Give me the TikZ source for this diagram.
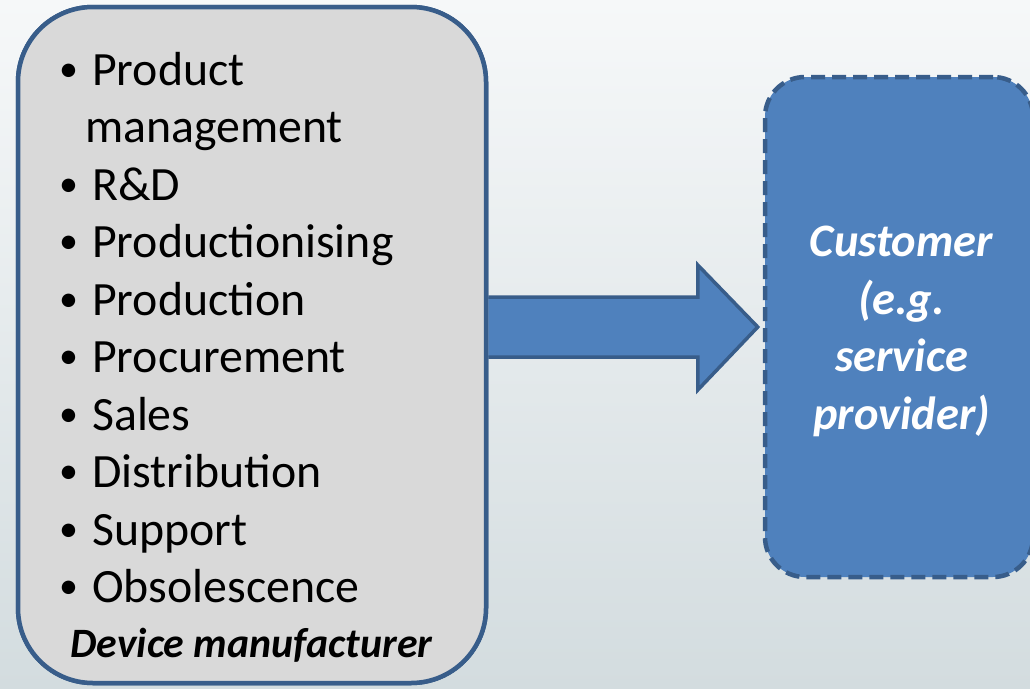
\documentclass[tikz,border=0pt]{standalone}
\usepackage{fontspec}
\setmainfont{Carlito}
\usetikzlibrary{calc}
\definecolor{accent}{HTML}{4F81BD}
\definecolor{edge}{HTML}{385D8A}
\definecolor{panel}{HTML}{D9D9D9}
\definecolor{bgtop}{HTML}{F6F8F9}
\definecolor{bgbot}{HTML}{D3DCDF}
\begin{document}
\begin{tikzpicture}[x=1pt,y=-1pt,
  panelbox/.style={draw=edge, fill=panel, line width=4.5pt, rounded corners=75pt,
    inner sep=0pt, minimum width=468pt, minimum height=676pt},
  custbox/.style={draw=edge, fill=accent, line width=4.5pt, rounded corners=40pt,
    dash pattern=on 14pt off 7pt, inner sep=0pt, minimum width=268pt, minimum height=500pt},
  blockarrow/.style={draw=edge, fill=accent, line width=3.5pt, line join=miter},
  bullet/.style={anchor=base, inner sep=0pt, yshift=4pt, font=\fontsize{38}{46}\selectfont},
  itemtext/.style={anchor=base west, inner sep=0pt, font=\fontsize{47.8}{57}\selectfont},
  caption/.style={anchor=base, inner sep=0pt, font=\fontsize{41.8}{50}\selectfont\bfseries\itshape},
  custtext/.style={anchor=north, inner sep=0pt, align=center, text=white,
    font=\fontsize{46.5}{57.5}\selectfont\bfseries\itshape}]
\useasboundingbox (0,0) rectangle (1030,688);
\clip (0,0) rectangle (1030,688);

% backdrop
\shade[top color=bgtop, bottom color=bgbot] (0,0) rectangle (1030,688);

% the two parties
\node[custbox] (cust) at (899,327) {};
\coordinate (tip) at ($(cust.west)+(-5,0)$);
\node[panelbox] (mfr) at (252,345) {};
\coordinate (tail) at (mfr.east |- tip);

% block arrow from manufacturer to customer
\draw[blockarrow] ($(tail)+(0,-30)$) -- ($(tip)+(-60,-30)$) -- ($(tip)+(-60,-62)$)
  -- (tip) -- ($(tip)+(-60,63)$) -- ($(tip)+(-60,30)$) -- ($(tail)+(0,30)$);
% redraw the panel so its border covers the arrow's tail
\node[panelbox] at (mfr.center) {};

% manufacturer functions
\foreach \y/\t [count=\i] in {85/Product, 200/R\&D, 257.5/Productionising,
    315/Production, 372.5/Procurement, 430/Sales, 487.5/Distribution,
    545/Support, 602.5/Obsolescence}{
  \node[bullet] (dot\i) at (68.5,\y) {\textbullet};
  \node[itemtext] (item\i) at (92,\y) {\t};
}
\node[itemtext] (item1b) at (85,142.5) {management};
\node[caption] (mfrlabel) at (251.5,657) {Device manufacturer};

% customer label
\node[custtext] (custlabel) at (901.5,226) {Customer\\(e.g.\\service\\provider)};
\end{tikzpicture}
\end{document}
